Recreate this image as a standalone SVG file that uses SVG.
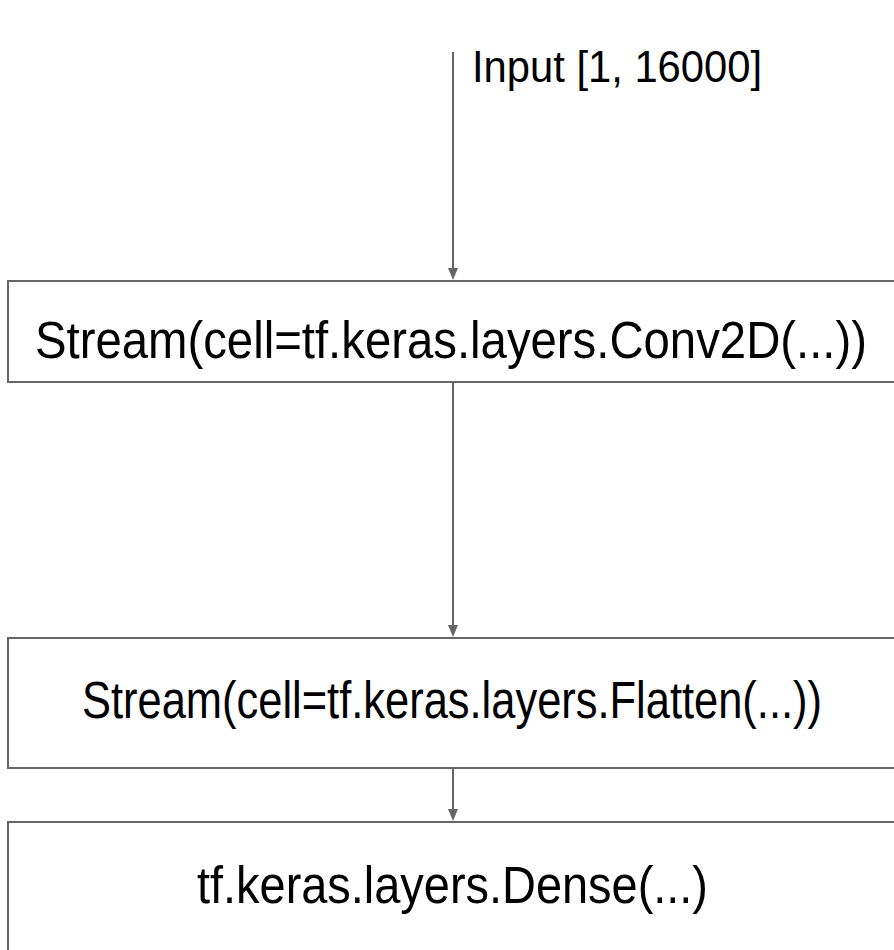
<svg xmlns="http://www.w3.org/2000/svg" width="894" height="950" viewBox="0 0 894 950">
<style>
.box{fill:#ffffff;stroke:#666666;stroke-width:2}
.conn{stroke:#666666;stroke-width:2;fill:none}
.head{fill:#666666}
.lbl{font-family:"Liberation Sans",Arial,sans-serif;font-size:44px;fill:#000000}
.in{font-family:"Liberation Sans",Arial,sans-serif;font-size:38px;fill:#000000}
</style>
<rect width="894" height="950" fill="#ffffff"/>
<g id="connectors">
<line class="conn" x1="453" y1="52" x2="453" y2="270"/>
<path class="head" d="M448,268 L458,268 L453,280 Z"/>
<line class="conn" x1="453" y1="382" x2="453" y2="627"/>
<path class="head" d="M448,625 L458,625 L453,637 Z"/>
<line class="conn" x1="453" y1="768" x2="453" y2="811"/>
<path class="head" d="M448,809 L458,809 L453,821 Z"/>
</g>
<g id="input">
<text class="in" transform="translate(472,82) scale(1,1.16)" x="0" y="0" textLength="290" lengthAdjust="spacingAndGlyphs">Input [1, 16000]</text>
</g>
<g id="conv2d">
<rect class="box" x="8" y="281" width="900" height="101"/>
<text class="lbl" transform="translate(35,358) scale(1,1.18)" x="0" y="0" textLength="832" lengthAdjust="spacingAndGlyphs">Stream(cell=tf.keras.layers.Conv2D(...))</text>
</g>
<g id="flatten">
<rect class="box" x="8" y="638" width="900" height="130"/>
<text class="lbl" transform="translate(82,718) scale(1,1.18)" x="0" y="0" textLength="740" lengthAdjust="spacingAndGlyphs">Stream(cell=tf.keras.layers.Flatten(...))</text>
</g>
<g id="dense">
<rect class="box" x="8" y="822" width="900" height="160"/>
<text class="lbl" transform="translate(197,903) scale(1,1.18)" x="0" y="0" textLength="511" lengthAdjust="spacingAndGlyphs">tf.keras.layers.Dense(...)</text>
</g>
</svg>
